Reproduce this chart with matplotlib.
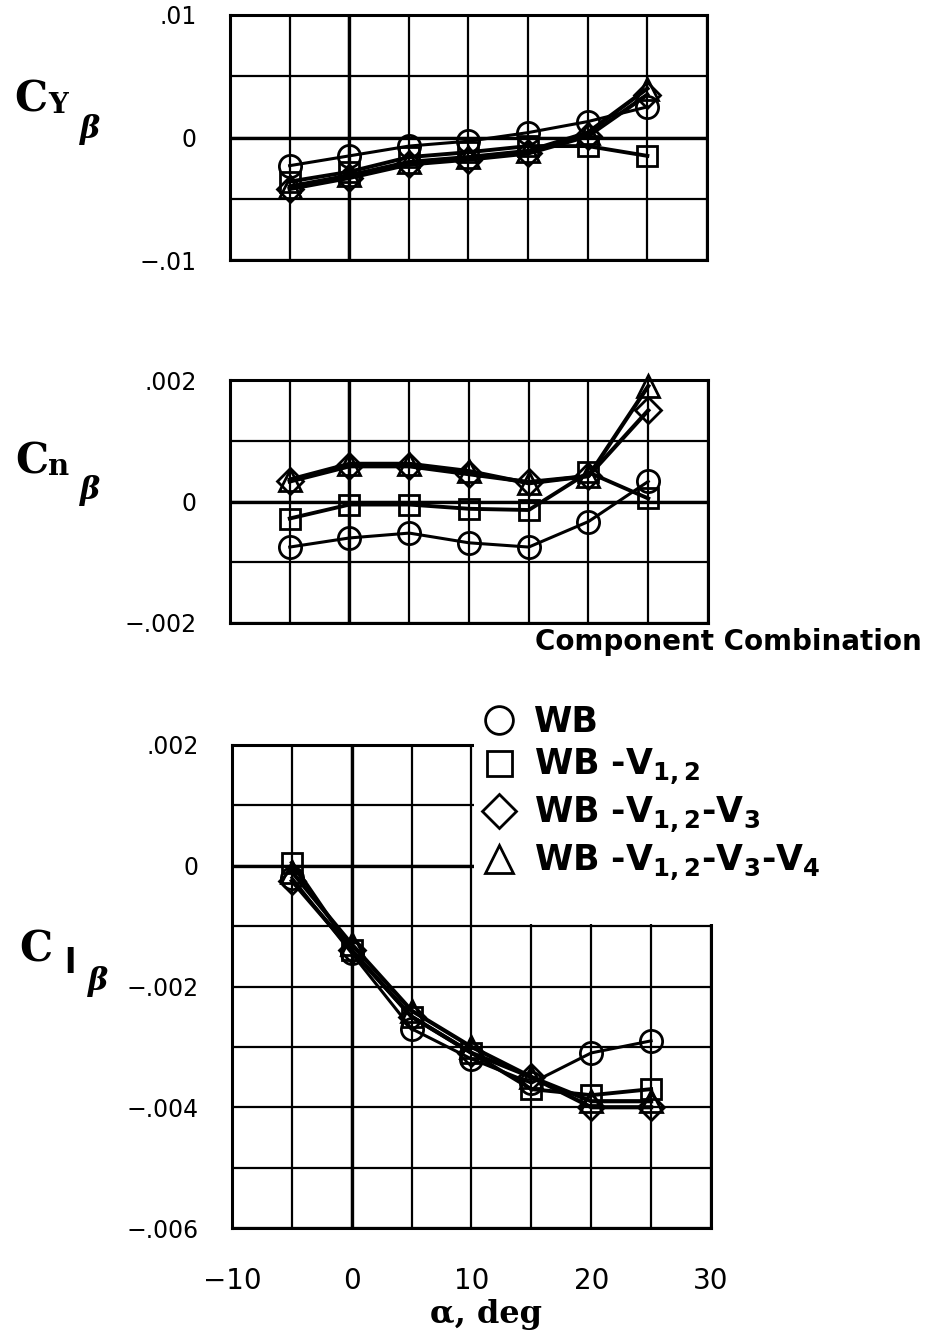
import numpy as np
import matplotlib.pyplot as plt
from matplotlib.lines import Line2D
from matplotlib.patches import Rectangle

plt.rcParams['font.family'] = ['DejaVu Sans']
plt.rcParams['mathtext.default'] = 'regular'

# angle of attack, deg
alpha = [-5, 0, 5, 10, 15, 20, 25]

configs = ['WB', 'WB -V$_{1,2}$', 'WB -V$_{1,2}$-V$_3$', 'WB -V$_{1,2}$-V$_3$-V$_4$']

# side force derivative
cyb_wb = [-0.0023, -0.0015, -0.0007, -0.0003, 0.0004, 0.0013, 0.0025]
cyb_v12 = [-0.0036, -0.0028, -0.0016, -0.0012, -0.0007, -0.0007, -0.0015]
cyb_v3 = [-0.0042, -0.0033, -0.0022, -0.0018, -0.0013, 0.0001, 0.0035]
cyb_v4 = [-0.0040, -0.0031, -0.0020, -0.0016, -0.0011, 0.0004, 0.0040]

# yawing moment derivative
cnb_wb = [-0.00075, -0.0006, -0.00052, -0.00068, -0.00075, -0.00033, 0.00033]
cnb_v12 = [-0.00028, -0.00005, -0.00005, -0.00012, -0.00014, 0.00048, 0.00005]
cnb_v3 = [0.00033, 0.00058, 0.00058, 0.00045, 0.00032, 0.00042, 0.0015]
cnb_v4 = [0.00036, 0.00062, 0.00062, 0.0005, 0.0003, 0.00042, 0.0019]

# rolling moment derivative
clb_wb = [-0.0002, -0.00145, -0.0027, -0.0032, -0.0036, -0.0031, -0.0029]
clb_v12 = [0.00005, -0.0014, -0.0025, -0.0031, -0.0037, -0.0038, -0.0037]
clb_v3 = [-0.00025, -0.0014, -0.0025, -0.0031, -0.0035, -0.004, -0.004]
clb_v4 = [-0.0001, -0.0013, -0.0024, -0.003, -0.0035, -0.0039, -0.0039]

x_grid = np.arange(-10, 31, 5)
x_labels = ['\u221210', '', '0', '', '10', '', '20', '', '30']

cy_grid = np.linspace(-0.01, 0.01, 5)
cy_labels = ['\u2212.01', '', '0', '', '.01']
cn_grid = np.linspace(-0.002, 0.002, 5)
cn_labels = ['\u2212.002', '', '0', '', '.002']
cl_grid = np.linspace(-0.006, 0.002, 9)
cl_labels = ['\u2212.006', '', '\u2212.004', '', '\u2212.002', '', '0', '', '.002']

markers = ['o', 's', 'D', '^']
msizes = [16, 14, 13, 16]
lwidths = [2.2, 2.8, 3.0, 3.0]

W, H = 929, 1337
fig = plt.figure(figsize=(W / 100, H / 100), dpi=100)


def box(left, top, right, bottom):
    return [left / W, 1 - bottom / H, (right - left) / W, (bottom - top) / H]


def setup(ax, ygrid, ylabels, show_x):
    ax.set_xlim(-10, 30)
    ax.set_ylim(ygrid[0], ygrid[-1])
    ax.set_xticks(x_grid)
    ax.set_yticks(ygrid)
    ax.set_xticklabels(x_labels if show_x else [''] * len(x_grid), fontsize=20)
    ax.set_yticklabels(ylabels, fontsize=17)
    ax.tick_params(length=0)
    ax.tick_params(axis='y', pad=24)
    ax.tick_params(axis='x', pad=28)
    ax.grid(True, color='k', lw=1.6)
    ax.axhline(0, color='k', lw=2.4, zorder=1)
    ax.axvline(0, color='k', lw=2.4, zorder=1)
    ax.set_axisbelow(True)
    for s in ax.spines.values():
        s.set_linewidth(2.2)


def draw(ax, series):
    for ys, m, ms, lw in zip(series, markers, msizes, lwidths):
        ax.plot(alpha, ys, color='k', lw=lw, marker=m, ms=ms,
                mfc='none', mec='k', mew=2.0, zorder=3, clip_on=False)


ax1 = fig.add_axes(box(230, 15, 707, 260))
setup(ax1, cy_grid, cy_labels, False)
draw(ax1, [cyb_wb, cyb_v12, cyb_v3, cyb_v4])

ax2 = fig.add_axes(box(230, 380, 708, 623))
setup(ax2, cn_grid, cn_labels, False)
draw(ax2, [cnb_wb, cnb_v12, cnb_v3, cnb_v4])

ax3 = fig.add_axes(box(232, 745, 711, 1228))
setup(ax3, cl_grid, cl_labels, True)
draw(ax3, [clb_wb, clb_v12, clb_v3, clb_v4])

# blank area behind the key
ax3.add_patch(Rectangle((0.506, 0.629), 0.6, 0.45, transform=ax3.transAxes,
                        fc='white', ec='none', zorder=2.6, clip_on=False))

ax3.text(0.53, -0.197, '\u03b1, deg', transform=ax3.transAxes, ha='center',
         va='baseline', fontsize=23, family='DejaVu Serif', weight='bold')


# coefficient labels: big C with subscripts
def coef(x, base, sub, sub_x, sub_base, sub_size, sub_family, beta_x, beta_base):
    fig.text(x / W, 1 - base / H, 'C', fontsize=30, family='DejaVu Serif',
             weight='bold', va='baseline')
    fig.text(sub_x / W, 1 - sub_base / H, sub, fontsize=sub_size,
             family=sub_family, weight='bold', va='baseline')
    fig.text(beta_x / W, 1 - beta_base / H, '\u03b2', fontsize=22,
             family='DejaVu Serif', style='italic', weight='bold', va='baseline')


coef(14, 112, 'Y', 48, 113, 20, 'DejaVu Serif', 80, 138)
coef(15, 473, 'n', 48, 475, 21, 'DejaVu Serif', 80, 499)
coef(19, 961, 'l', 64, 973, 24, 'DejaVu Sans', 88, 990)

fig.text(535 / W, 1 - 650 / H, 'Component Combination', fontsize=20,
         weight='bold', va='baseline')

handles = [Line2D([], [], ls='none', marker=m, ms=ms + 4, mfc='none', mec='k', mew=2.0)
           for m, ms in zip(markers, msizes)]
fig.legend(handles, configs, loc='upper left', bbox_to_anchor=(485 / W, 1 - 705 / H),
           frameon=False, borderaxespad=0, borderpad=0, handlelength=0.8,
           handletextpad=0.6, labelspacing=0.22,
           prop={'size': 25, 'weight': 'bold'})

fig.savefig('out.png', dpi=100)
